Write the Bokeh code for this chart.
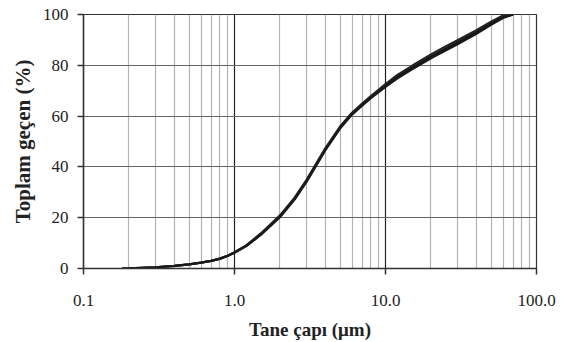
from bokeh.plotting import figure
from bokeh.models import FixedTicker, PrintfTickFormatter, Range1d
from bokeh.embed import file_html
from bokeh.resources import INLINE

# particle size (um) and cumulative passing (%) for three overlapping measurements
size_um = [0.18, 0.2, 0.3, 0.4, 0.5, 0.6, 0.7, 0.8, 0.9, 1.0, 1.2, 1.5, 2.0, 2.5, 3.0,
           4.0, 5.0, 6.0, 7.0, 8.0, 10.0, 12.0, 15.0, 20.0, 25.0, 30.0, 40.0, 50.0, 60.0, 70.0]
passing_a = [0.0, 0.1, 0.5, 1.0, 1.6, 2.3, 3.0, 3.9, 5.0, 6.3, 9.0, 13.6, 20.5, 27.5, 34.5,
             47.0, 55.5, 61.0, 64.5, 67.5, 72.0, 75.5, 79.0, 83.5, 86.5, 89.0, 93.0, 96.5, 99.0, 100.0]
passing_b = [0.0, 0.1, 0.5, 1.0, 1.6, 2.3, 3.0, 3.9, 5.0, 6.4, 9.2, 13.9, 20.9, 27.9, 34.9,
             47.4, 55.9, 61.3, 64.9, 67.9, 72.6, 76.2, 79.8, 84.3, 87.4, 89.9, 93.8, 97.2, 99.6, 100.0]
passing_c = [0.0, 0.1, 0.5, 1.0, 1.6, 2.3, 3.0, 3.8, 4.9, 6.2, 8.8, 13.3, 20.2, 27.1, 34.1,
             46.6, 55.1, 60.6, 64.1, 67.1, 71.5, 74.9, 78.4, 82.8, 85.8, 88.3, 92.4, 95.9, 98.6, 100.0]

x_major = [0.1, 1.0, 10.0, 100.0]
x_minor = [m * d for d in (0.1, 1.0, 10.0) for m in range(2, 10)]
y_ticks = [0, 20, 40, 60, 80, 100]

FONT = "Liberation Serif"

p = figure(width=567, height=342, x_axis_type="log",
           x_range=Range1d(0.1, 100), y_range=Range1d(0, 100),
           output_backend="svg", toolbar_location=None,
           min_border_left=83, min_border_right=31, min_border_top=14, min_border_bottom=74)

p.background_fill_color = "white"
p.border_fill_color = "white"
p.outline_line_color = "#333333"
p.outline_line_width = 1.2

p.xaxis.ticker = FixedTicker(ticks=x_major, minor_ticks=x_minor)
p.xaxis.formatter = PrintfTickFormatter(format="%.1f")
p.yaxis.ticker = FixedTicker(ticks=y_ticks)

for ax in (p.xaxis[0], p.yaxis[0]):
    ax.axis_line_color = "#333333"
    ax.axis_line_width = 1.5
    ax.major_tick_line_color = "#333333"
    ax.major_tick_line_width = 1.5
    ax.major_tick_out = 6
    ax.major_tick_in = 0
    ax.minor_tick_line_color = None
    ax.major_label_text_font = FONT
    ax.major_label_text_font_size = "17px"
    ax.major_label_text_color = "#222222"
    ax.axis_label_text_font = FONT
    ax.axis_label_text_font_style = "bold"
    ax.axis_label_text_color = "#222222"

p.xaxis.axis_label = "Tane çapı (μm)"
p.yaxis.axis_label = "Toplam geçen (%)"
p.xaxis.axis_label_text_font_size = "19px"
p.yaxis.axis_label_text_font_size = "21px"
p.xaxis.major_label_standoff = 20
p.xaxis.axis_label_standoff = 10
p.yaxis.major_label_standoff = 9
p.yaxis.axis_label_standoff = 5

p.xgrid.ticker = FixedTicker(ticks=x_major, minor_ticks=x_minor)
p.xgrid.grid_line_color = "#222222"
p.xgrid.grid_line_width = 1.2
p.xgrid.minor_grid_line_color = "#b4b4b4"
p.xgrid.minor_grid_line_width = 1.2
p.ygrid.ticker = FixedTicker(ticks=y_ticks)
p.ygrid.grid_line_color = "#666666"
p.ygrid.grid_line_width = 1.2

for series, col in ((passing_a, "#111111"), (passing_b, "#222222"), (passing_c, "#1a1a1a")):
    p.line(size_um, series, line_color=col, line_width=2.2)

open("out.html", "w").write(file_html(p, INLINE))
